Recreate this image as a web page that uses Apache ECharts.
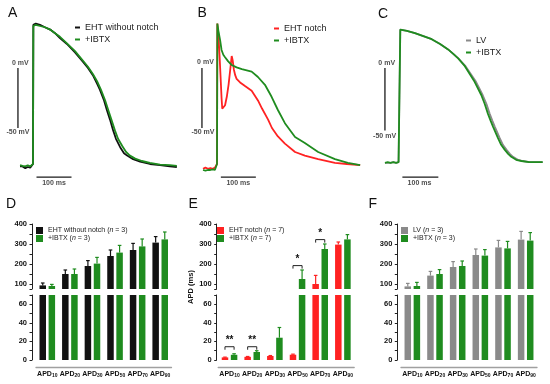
<!DOCTYPE html>
<html><head><meta charset="utf-8">
<script src="https://cdn.jsdelivr.net/npm/echarts@6/dist/echarts.min.js"></script>
<style>html,body{margin:0;padding:0;background:#fff}#c{width:550px;height:384px}</style>
</head><body><div id="c"></div>
<script>
// ---------- Action potential traces: [time (ms), membrane potential (mV)] ----------
const traceA_EHT = [[-37,-82],[-30,-82],[-22,-83.5],[-15,-82.5],[-8,-83],[-3,-82],[0,-80],[1,36],[8,37],[20,36],[34,34],[49,32],[63,29],[77,25],[97,20],[120,13],[143,5],[157,0],[171,-6],[183,-13],[191,-18],[203,-27],[211,-35],[220,-43],[229,-52],[237,-59],[249,-66],[260,-71],[269,-73],[286,-76],[306,-78],[334,-80],[363,-81],[391,-82],[411,-82.5]];
const traceA_IBTX = [[-37,-81],[-30,-81.5],[-22,-82],[-15,-81],[-8,-82],[-3,-83],[0,-80],[1,35],[8,36],[20,35],[34,34],[49,32],[63,29],[77,26],[97,20.5],[120,14],[143,6],[157,1],[171,-5],[183,-11],[194,-18],[206,-27],[215,-35],[224,-43],[234,-52],[243,-59],[255,-65],[266,-70],[277,-73],[292,-75.5],[311,-77.5],[334,-79],[363,-80.5],[391,-81],[411,-81.5]];
const traceB_EHT = [[-40,-84],[-33,-83],[-26,-84],[-19,-83.5],[-12,-84],[-6,-83],[-2,-83],[0,-80],[1,37],[4,28],[7,12],[10,-6],[13,-25],[15,-34],[18,-34],[23,-31],[28,-24],[33,-14],[38,-1],[42,10],[45,6],[48,-1],[52,-6],[56,-9],[66,-12],[80,-15],[99,-19],[117,-27],[129,-34],[146,-43],[157,-50],[174,-57],[194,-63],[223,-70],[251,-73],[289,-76],[337,-79],[371,-80],[409,-81]];
const traceB_IBTX = [[-40,-85],[-33,-85.5],[-26,-85],[-19,-85],[-12,-84.5],[-6,-85],[-2,-84],[0,-80],[1,37],[4,31],[9,23],[13,15],[18,11],[23,9],[32,5.5],[42,2.5],[56,0.5],[71,-1],[85,-2],[99,-3],[117,-7.5],[137,-14],[156,-24],[174,-35],[194,-46],[223,-57.5],[251,-62.5],[289,-70],[337,-76],[374,-79],[409,-81]];
const traceC_LV = [[-43,-79],[-35,-79],[-27,-79],[-19,-78.5],[-11,-79],[-4,-78.5],[0,-78],[1,32],[5,32.5],[20,31],[43,29],[67,26.5],[91,24],[115,20],[138,15.5],[152,12],[167,8],[188,1.5],[203,-5],[218,-11.5],[237,-22.5],[248,-30],[257,-38],[265,-44],[272,-49],[286,-58.5],[295,-64],[305,-68],[315,-71.5],[324,-74],[338,-76.5],[352,-77.5],[372,-78.5],[390,-78.5],[409,-78.5]];
const traceC_IBTX = [[-43,-79],[-35,-78.5],[-27,-79],[-19,-78.5],[-11,-79],[-4,-78.5],[0,-78],[1,32],[5,32.5],[20,31],[43,29],[67,26.5],[91,24],[115,20],[138,15.5],[152,12],[167,8],[186,1.5],[200,-5],[214,-11.5],[233,-22.5],[243,-30],[252,-38],[260,-44],[267,-49],[281,-58.5],[290,-64],[300,-68],[310,-71.5],[319,-74],[333,-76.5],[348,-77.5],[370,-78.5],[390,-78.5],[409,-78.5]];

// scale bars (ms, mV) per trace panel
const scaleBarVert = [[[-43,0],[-43,-50]], [[-43,0],[-43,-50]], [[-43,0],[-43,-52]]];
const scaleBarHorz = [[[10,-91],[110,-91]], [[11,-91],[111,-91]], [[7,-91],[110,-91]]];
const scaleLabels = [
  [[-36,4,'0 mV'],[-43,-53.5,'-50 mV'],[60,-96,'100 ms']],
  [[-33,5,'0 mV'],[-40,-53,'-50 mV'],[61,-96,'100 ms']],
  [[-38,4,'0 mV'],[-44,-57,'-50 mV'],[56,-96,'100 ms']]
];

// ---------- APD bar data (ms) ----------
const categories = ['APD10','APD20','APD30','APD50','APD70','APD90'];
const upperTickLabels = [100,200,300,400];
const lowerTickLabels = [0,20,40,60];
const D_noNotch = [93,150,190,240,270,307];
const D_noNotchErr = [12,20,27,30,33,30];
const D_ibtx = [90,150,202,257,288,323];
const D_ibtxErr = [8,25,31,36,37,37];
const E_notch = [2.8,3.4,4.3,5.7,100,297];
const E_notchErr = [0.3,0.4,0.5,0.6,43,13];
const E_ibtx = [5.6,8.6,24,125,275,323];
const E_ibtxErr = [1.1,1.4,11,45,25,24];
const F_lv = [88,142,185,245,283,322];
const F_lvErr = [15,21,27,30,35,41];
const F_ibtx = [90,150,190,242,278,317];
const F_ibtxErr = [18,22,25,30,35,40];
// significance marks in E: category index, bracket height (ms), text
const sigCat = [0,1,3,4];
const sigVal = [14.3,14.3,192,322];
const sigText = ['**','**','*','*'];

const legendText = {
  A1:'EHT without notch', A2:'+IBTX', B1:'EHT notch', B2:'+IBTX', C1:'LV', C2:'+IBTX',
  D1:'{t|EHT without notch (}{i|n}{t| = 3)}', D2:'{t|+IBTX (}{i|n}{t| = 3)}',
  E1:'{t|EHT notch (}{i|n}{t| = 7)}', E2:'{t|+IBTX (}{i|n}{t| = 7)}',
  F1:'{t|LV (}{i|n}{t| = 3)}', F2:'{t|+IBTX (}{i|n}{t| = 3)}'
};

// ---------- styling ----------
const FONT = '"Liberation Sans", Arial, sans-serif';
const BLACK = '#111111', GREEN = '#1f8c1f', RED = '#ff2222', GRAY = '#8a8a8a';
const BAR_W = 6.5, BAR_GAP = 0.4, BAR_OFF = (BAR_W + BAR_W*BAR_GAP)/2;

const grids = [], xAxes = [], yAxes = [], series = [];

// trace panels
const traceLeft = [15.5, 199.5, 382.5];
const traceSets = [
  [['A1',traceA_EHT,BLACK],['A2',traceA_IBTX,GREEN]],
  [['B1',traceB_EHT,RED],['B2',traceB_IBTX,GREEN]],
  [['C1',traceC_LV,GRAY],['C2',traceC_IBTX,GREEN]]
];
traceLeft.forEach((l,i)=>{
  grids.push({left:l, top:14, width:168, height:174});
  xAxes.push({type:'value', gridIndex:i, min:-50, max:430, show:false});
  yAxes.push({type:'value', gridIndex:i, min:-100, max:45, show:false});
  traceSets[i].forEach(([name,data,color])=>{
    series.push({type:'line', name, xAxisIndex:i, yAxisIndex:i, data, showSymbol:false, symbol:'none',
      lineStyle:{width:1.8, color}, itemStyle:{color}, z:2, silent:true});
  });
  [scaleBarVert[i], scaleBarHorz[i]].forEach(d=>{
    series.push({type:'line', xAxisIndex:i, yAxisIndex:i, data:d, showSymbol:false, symbol:'none',
      lineStyle:{width:1.3, color:'#1a1a1a'}, silent:true, z:1});
  });
  series.push({type:'scatter', xAxisIndex:i, yAxisIndex:i, symbolSize:0, silent:true,
    data: scaleLabels[i].map(s=>({value:[s[0],s[1]], name:s[2]})),
    label:{show:true, position:[0,0], align:'center', verticalAlign:'middle', formatter:'{b}',
      fontSize:7, fontWeight:'bold', color:'#1a1a1a', fontFamily:FONT}});
});

// bar panels
const barPanels = [
  {left:36, width:135.5, off:4, s:[['D1',D_noNotch,D_noNotchErr,BLACK],['D2',D_ibtx,D_ibtxErr,GREEN]]},
  {left:218.2, width:136, off:1.5, s:[['E1',E_notch,E_notchErr,RED],['E2',E_ibtx,E_ibtxErr,GREEN]]},
  {left:401, width:136, off:3.7, s:[['F1',F_lv,F_lvErr,GRAY],['F2',F_ibtx,F_ibtxErr,GREEN]]}
];
const UP_MIN = 75, UP_MAX = 400, LO_MAX = 70;

function errSeries(g, items){
  return {type:'custom', xAxisIndex:g, yAxisIndex:g, data:items, z:3, silent:true,
    renderItem:(params, api)=>{
      const c = api.value(0), side = api.value(3);
      const p0 = api.coord([c, api.value(1)]), p1 = api.coord([c, api.value(2)]);
      const x = p0[0] + side*BAR_OFF;
      const col = items[params.dataIndex][4];
      return {type:'group', children:[
        {type:'line', shape:{x1:x,y1:p0[1],x2:x,y2:p1[1]}, style:{stroke:col, lineWidth:1.2}},
        {type:'line', shape:{x1:x-1.8,y1:p1[1],x2:x+1.8,y2:p1[1]}, style:{stroke:col, lineWidth:1.2}}
      ]};
    }};
}

barPanels.forEach((p,k)=>{
  const gu = 3+2*k, gl = 4+2*k;
  grids.push({left:p.left, top:224, width:p.width, height:65});
  grids.push({left:p.left, top:295, width:p.width, height:65});
  xAxes.push({type:'category', gridIndex:gu, data:categories, show:false});
  xAxes.push({type:'category', gridIndex:gl, data:categories, offset:7,
    axisLine:{show:true, onZero:false, lineStyle:{color:'#a0a0a0', width:1.3}}, axisTick:{show:false},
    axisLabel:{interval:0, margin:3, formatter:v=>'{a|APD}{b|'+v.slice(3)+'}',
      rich:{a:{fontSize:7, fontWeight:'bold', color:'#111', fontFamily:FONT, lineHeight:8, verticalAlign:'bottom'},
            b:{fontSize:5, fontWeight:'bold', color:'#111', fontFamily:FONT, lineHeight:7, verticalAlign:'bottom'}}}});
  const yCommon = {type:'value', offset:p.off, splitLine:{show:false},
    axisLine:{show:true, lineStyle:{color:'#222', width:1}},
    axisLabel:{fontSize:7.5, fontWeight:'bold', color:'#111', margin:5, fontFamily:FONT}};
  yAxes.push(Object.assign({}, yCommon, {gridIndex:gu, min:UP_MIN, max:UP_MAX,
    axisTick:{show:true, length:2.5, lineStyle:{color:'#222'}, customValues:[75,100,150,200,250,300,350,400]},
    axisLabel:Object.assign({}, yCommon.axisLabel, {customValues:upperTickLabels})}));
  yAxes.push(Object.assign({}, yCommon, {gridIndex:gl, min:0, max:LO_MAX,
    axisTick:{show:true, length:2.5, lineStyle:{color:'#222'}, customValues:[0,10,20,30,40,50,60,70]},
    axisLabel:Object.assign({}, yCommon.axisLabel, {customValues:lowerTickLabels})}));
  const errUp = [], errLo = [];
  p.s.forEach(([name,mean,err,color],j)=>{
    series.push({type:'bar', name, xAxisIndex:gu, yAxisIndex:gu, barWidth:BAR_W, barGap:(BAR_GAP*100)+'%',
      data: mean.map(v=> v>=UP_MIN ? v : '-'), itemStyle:{color}, silent:true});
    series.push({type:'bar', name, xAxisIndex:gl, yAxisIndex:gl, barWidth:BAR_W, barGap:(BAR_GAP*100)+'%',
      data: mean.map(v=> Math.min(v, LO_MAX)), itemStyle:{color}, silent:true});
    const side = j===0 ? -1 : 1;
    mean.forEach((v,c)=>{
      const item = [c, v, v+err[c], side, color];
      (v>=UP_MIN ? errUp : errLo).push(item);
    });
  });
  series.push(errSeries(gu, errUp));
  series.push(errSeries(gl, errLo));
});

// significance brackets (panel E)
function sigSeries(g, idxs){
  const items = idxs.map(i=>[sigCat[i], sigVal[i], i]);
  return {type:'custom', xAxisIndex:g, yAxisIndex:g, data:items, z:4, silent:true,
    renderItem:(params, api)=>{
      const pt = api.coord([api.value(0), api.value(1)]);
      const xl = pt[0]-BAR_OFF, xr = pt[0]+BAR_OFF, y = pt[1];
      return {type:'group', children:[
        {type:'polyline', shape:{points:[[xl,y+3],[xl,y],[xr,y],[xr,y+3]]}, style:{stroke:'#222', lineWidth:1, fill:null}},
        {type:'text', x:pt[0], y:y-1.5, style:{text:sigText[items[params.dataIndex][2]], align:'center', verticalAlign:'bottom',
          fontSize:10, fontWeight:'bold', fill:'#111', fontFamily:FONT}}
      ]};
    }};
}
series.push(sigSeries(6, sigVal.map((v,i)=>i).filter(i=>sigVal[i] < LO_MAX)));
series.push(sigSeries(5, sigVal.map((v,i)=>i).filter(i=>sigVal[i] >= UP_MIN)));

// legends
const fmt = n => legendText[n];
const traceLeg = {orient:'vertical', icon:'rect', itemWidth:5, itemHeight:2, itemGap:1, padding:0, selectedMode:false,
  textStyle:{fontSize:9, lineHeight:11, color:'#222', fontFamily:FONT}, formatter:fmt};
const barLeg = {orient:'vertical', icon:'rect', itemWidth:7, itemHeight:7, itemGap:1, padding:0, selectedMode:false,
  textStyle:{fontSize:7, lineHeight:7, color:'#222', fontFamily:FONT,
    rich:{t:{fontSize:7, lineHeight:7, color:'#222', fontFamily:FONT}, i:{fontSize:7, lineHeight:7, fontStyle:'italic', color:'#222', fontFamily:FONT}}},
  formatter:fmt};
const legends = [
  Object.assign({left:75, top:22, data:['A1','A2']}, traceLeg),
  Object.assign({left:274, top:23, data:['B1','B2']}, traceLeg),
  Object.assign({left:466, top:35, data:['C1','C2']}, traceLeg),
  Object.assign({left:36, top:227, data:['D1','D2']}, barLeg),
  Object.assign({left:217, top:227, data:['E1','E2']}, barLeg),
  Object.assign({left:401, top:227, data:['F1','F2']}, barLeg)
];

// panel letters and axis title
const panelLetters = [['A',8,6.5],['B',197.5,6],['C',378,7.5],['D',6,197.5],['E',188.5,197],['F',368.5,197.5]];
const graphics = panelLetters.map(([t,x,y])=>({type:'text', left:x, top:y, silent:true,
  style:{text:t, fontSize:14, fontFamily:FONT, fill:'#111'}}));
graphics.push({type:'text', x:190.5, y:287, rotation:Math.PI/2, silent:true,
  style:{text:'APD (ms)', align:'center', verticalAlign:'middle', fontSize:7.5, fontWeight:'bold', fontFamily:FONT, fill:'#111'}});

const chart = echarts.init(document.getElementById('c'), null, {renderer:'canvas'});
chart.setOption({animation:false, textStyle:{fontFamily:FONT}, grid:grids, xAxis:xAxes, yAxis:yAxes,
  series, legend:legends, graphic:graphics});
</script></body></html>
